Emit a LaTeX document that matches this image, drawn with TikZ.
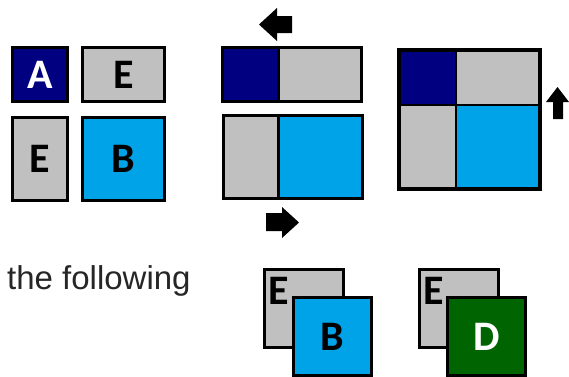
\documentclass[tikz,border=0pt]{standalone}
\usepackage{fontspec}
\setmainfont{Liberation Sans}
\newfontfamily\boxfont{Carlito}
\definecolor{navyA}{RGB}{0,0,128}
\definecolor{greyE}{RGB}{192,192,192}
\definecolor{blueB}{RGB}{0,162,232}
\definecolor{greenD}{RGB}{0,100,0}
\definecolor{txtgrey}{RGB}{38,38,38}
\tikzset{
  cell/.style={draw=black, line width=3pt, rectangle, inner sep=0pt,
    font=\boxfont\bfseries\fontsize{42}{42}\selectfont},
  thincell/.style={draw=black, line width=2pt, rectangle, inner sep=0pt},
  blockarrow/.style={fill=black, draw=none},
}
\begin{document}
\begin{tikzpicture}[x=1pt,y=-1pt]
\useasboundingbox (0,0) rectangle (569,376);
\clip (0,0) rectangle (569,376);
\fill[white] (0,0) rectangle (569,376);

% left group
\node[cell, fill=navyA, text=white, minimum width=55pt, minimum height=54pt] (a) at (40,74.5) {A};
\node[cell, fill=greyE, minimum width=82pt, minimum height=54pt] (e1) at (123.5,74.5) {E};
\node[cell, fill=greyE, minimum width=55pt, minimum height=83pt] (e2) at (40,159) {E};
\node[cell, fill=blueB, minimum width=82pt, minimum height=83pt] (b1) at (123.5,159) {B};

% middle bars
\node[cell, fill=navyA, minimum width=55.5pt, minimum height=54pt] (ta) at (250.25,74.5) {};
\node[cell, fill=greyE, minimum width=83.5pt, minimum height=54pt] (te) at (319.75,74.5) {};
\node[cell, fill=greyE, minimum width=54.5pt, minimum height=83pt] (be) at (250.75,157) {};
\node[cell, fill=blueB, minimum width=84.5pt, minimum height=83pt] (bb) at (320.25,157) {};

% arrows middle
\fill[blockarrow] (259,24.5) -- (277,8) -- (277,16) -- (292,16) -- (292,33) -- (277,33) -- (277,41) -- cycle;
\fill[blockarrow] (299,222.5) -- (282,207) -- (282,213) -- (266,213) -- (266,231) -- (282,231) -- (282,238) -- cycle;

% square
\node[thincell, fill=navyA, minimum width=58pt, minimum height=56pt] (sa) at (427,77) {};
\node[thincell, fill=greyE, minimum width=85pt, minimum height=56pt] (se1) at (498.5,77) {};
\node[thincell, fill=greyE, minimum width=58pt, minimum height=85pt] (se2) at (427,147.5) {};
\node[thincell, fill=blueB, minimum width=85pt, minimum height=85pt] (sb) at (498.5,147.5) {};
\node[draw=black, line width=3pt, inner sep=0pt, minimum width=140pt, minimum height=138pt] (sq) at (469.5,119.5) {};

% up arrow
\fill[blockarrow] (557.5,87) -- (569,102) -- (563,102) -- (563,119) -- (553,119) -- (553,102) -- (546,102) -- cycle;

% text
\node[anchor=base west, inner sep=0pt, text=txtgrey, font=\fontsize{33}{40}\selectfont] (txt) at (7,289) {the following};

% bottom stacks
\node[cell, fill=greyE, minimum width=79pt, minimum height=78pt] (ebk1) at (304,308.5) {};
\node[inner sep=0pt, font=\boxfont\bfseries\fontsize{42}{42}\selectfont] (ebl1) at (278.5,290.5) {E};
\node[cell, fill=blueB, minimum width=78pt, minimum height=78pt] (bfr) at (332.5,336.5) {B};

\node[cell, fill=greyE, minimum width=79pt, minimum height=78pt] (ebk2) at (459,308.5) {};
\node[inner sep=0pt, font=\boxfont\bfseries\fontsize{42}{42}\selectfont] (ebl2) at (433.5,290.5) {E};
\node[cell, fill=greenD, text=white, minimum width=78pt, minimum height=78pt] (dfr) at (486.5,336.5) {D};
\end{tikzpicture}
\end{document}
